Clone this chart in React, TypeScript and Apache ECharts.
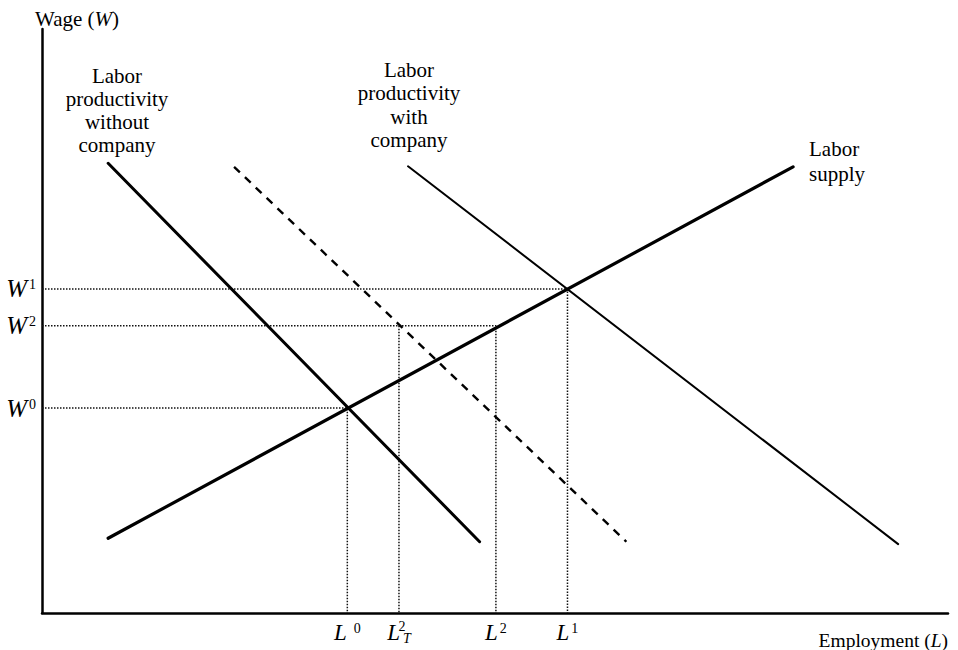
import React, { useEffect, useRef } from "react";
import * as echarts from "echarts";

// Curves (x = employment units, y = wage units)
const laborSupply = [[7.3, 12.8], [82.9, 76.4]];
const prodWithout = [[7.3, 77.0], [48.3, 12.2]];
const prodDashed = [[21.2, 76.4], [64.5, 12.2]];
const prodWith = [[40.4, 76.5], [94.5, 11.8]];

// Equilibrium levels
const wageValues = [35.1, 55.5, 49.2]; // W0, W1, W2
const wageSup = ["0", "1", "2"];
const empValues = [33.7, 39.4, 50.1, 58.0]; // L0, LT2, L2, L1
const empSup = ["0", "2", "2", "1"];
const empSub = ["", "T", "", ""];

const SERIF = "'Liberation Serif', 'DejaVu Serif', serif";

export default function App() {
  const ref = useRef<HTMLDivElement>(null);

  useEffect(() => {
    document.body.style.margin = "0";
    if (!ref.current) return;
    const chart = echarts.init(ref.current, null, { renderer: "svg" });

    const [W0, W1, W2] = wageValues;
    const [L0, LT2, L2, L1] = empValues;

    const dotted = {
      color: "#111",
      width: 1.5,
      type: [1.5, 1.5] as any,
    };

    const guide = (name: string, data: number[][]) => ({
      name,
      type: "line",
      data,
      symbol: "none",
      silent: true,
      lineStyle: dotted,
      z: 1,
    });

    const curve = (name: string, data: number[][], width: number, type: any = "solid") => ({
      name,
      type: "line",
      data,
      symbol: "none",
      silent: true,
      lineStyle: { color: "#000", width, type, cap: type === "solid" ? "round" : "butt" },
      z: 3,
    });

    const labelRich = {
      w: { fontFamily: SERIF, fontStyle: "italic", fontSize: 25, lineHeight: 26, color: "#000" },
      l: { fontFamily: SERIF, fontStyle: "italic", fontSize: 23, lineHeight: 26, color: "#000" },
      s: { fontFamily: SERIF, fontSize: 14, verticalAlign: "top", color: "#000", padding: [2, 0, 0, 2] },
      s0: { fontFamily: SERIF, fontSize: 14, verticalAlign: "top", color: "#000", padding: [2, 0, 0, 7] },
      st: { fontFamily: SERIF, fontSize: 14, verticalAlign: "top", color: "#000", width: 0, align: "left", padding: [0, 0, 0, 2] },
      t: { fontFamily: SERIF, fontStyle: "italic", fontSize: 14, verticalAlign: "bottom", color: "#000", padding: [0, 0, 0, 1] },
    };

    const annot = {
      fontFamily: SERIF,
      fontSize: 21,
      fill: "#000",
    };

    chart.setOption({
      animation: false,
      backgroundColor: "#fff",
      grid: { left: 42, top: 29, width: 906, height: 584, containLabel: false, outerBoundsMode: "none" } as any,
      xAxis: {
        type: "value",
        min: 0,
        max: 100,
        axisLine: { show: true, onZero: false, lineStyle: { color: "#000", width: 2.5 } },
        axisTick: { show: false },
        splitLine: { show: false },
        axisLabel: {
          customValues: empValues,
          margin: 6,
          formatter: (v: number) => {
            const i = empValues.indexOf(v);
            if (i < 0) return "";
            if (empSub[i]) return `{l|L}{st|${empSup[i]}}{t|${empSub[i]}}`;
            return i === 0 ? `{l|L}{s0|${empSup[i]}}` : `{l|L}{s|${empSup[i]}}`;
          },
          rich: labelRich,
        },
      } as any,
      yAxis: {
        type: "value",
        min: 0,
        max: 100,
        axisLine: { show: true, onZero: false, lineStyle: { color: "#000", width: 2.5 } },
        axisTick: { show: false },
        splitLine: { show: false },
        axisLabel: {
          customValues: wageValues,
          margin: 6,
          formatter: (v: number) => {
            const i = wageValues.indexOf(v);
            if (i < 0) return "";
            return `{w|W}{s|${wageSup[i]}}`;
          },
          rich: labelRich,
        },
      } as any,
      series: [
        guide("W0 guide", [[0, W0], [L0, W0], [L0, 0]]),
        guide("W1 guide", [[0, W1], [L1, W1], [L1, 0]]),
        guide("W2 guide", [[0, W2], [L2, W2], [L2, 0]]),
        guide("LT2 guide", [[LT2, W2], [LT2, 0]]),
        curve("Labor supply", laborSupply, 3.2),
        curve("Labor productivity without company", prodWithout, 3),
        curve("Dashed productivity", prodDashed, 2.4, [8, 7]),
        curve("Labor productivity with company", prodWith, 2),
      ],
      graphic: [
        {
          type: "text",
          x: 35,
          y: 19,
          style: {
            text: "{a|Wage (}{i|W}{a|)}",
            rich: {
              a: { fontFamily: SERIF, fontSize: 21, color: "#000" },
              i: { fontFamily: SERIF, fontSize: 21, fontStyle: "italic", color: "#000" },
            },
            align: "left",
            verticalAlign: "middle",
          },
        },
        {
          type: "text",
          x: 948,
          y: 640,
          style: {
            text: "{a|Employment (}{i|L}{a|)}",
            rich: {
              a: { fontFamily: SERIF, fontSize: 19.5, color: "#000" },
              i: { fontFamily: SERIF, fontSize: 19.5, fontStyle: "italic", color: "#000" },
            },
            align: "right",
            verticalAlign: "middle",
          },
        },
        {
          type: "text",
          x: 117,
          y: 110,
          style: {
            ...annot,
            text: "Labor\nproductivity\nwithout\ncompany",
            lineHeight: 23,
            align: "center",
            verticalAlign: "middle",
          },
        },
        {
          type: "text",
          x: 409,
          y: 105,
          style: {
            ...annot,
            text: "Labor\nproductivity\nwith\ncompany",
            lineHeight: 23.3,
            align: "center",
            verticalAlign: "middle",
          },
        },
        {
          type: "text",
          x: 809,
          y: 161,
          style: {
            ...annot,
            text: "Labor\nsupply",
            lineHeight: 25,
            align: "left",
            verticalAlign: "middle",
          },
        },
      ],
    });

    return () => chart.dispose();
  }, []);

  return <div ref={ref} style={{ width: 958, height: 650 }} />;
}
